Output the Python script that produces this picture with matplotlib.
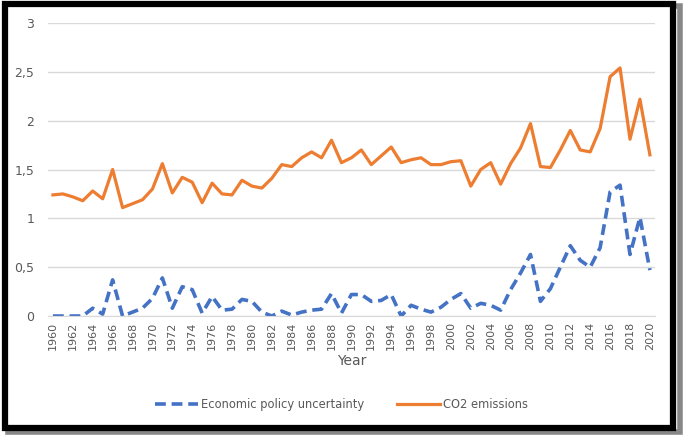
import matplotlib
matplotlib.use("Agg")
import matplotlib.pyplot as plt
from matplotlib.patches import Rectangle
from matplotlib.ticker import FuncFormatter

# data
years = list(range(1960, 2021))
epu = [0.0, 0.0, 0.0, 0.0, 0.08, 0.02, 0.37, 0.0, 0.04, 0.08,
       0.18, 0.39, 0.08, 0.30, 0.27, 0.03, 0.20, 0.06, 0.07, 0.17,
       0.15, 0.04, 0.0, 0.05, 0.01, 0.04, 0.06, 0.07, 0.23, 0.03,
       0.22, 0.22, 0.15, 0.16, 0.22, 0.0, 0.11, 0.07, 0.04, 0.09,
       0.17, 0.23, 0.08, 0.13, 0.11, 0.06, 0.27, 0.44, 0.63, 0.15,
       0.28, 0.50, 0.72, 0.57, 0.50, 0.70, 1.27, 1.34, 0.63, 1.01,
       0.47]
co2 = [1.24, 1.25, 1.22, 1.18, 1.28, 1.20, 1.50, 1.11, 1.15, 1.19,
       1.30, 1.56, 1.26, 1.42, 1.37, 1.16, 1.36, 1.25, 1.24, 1.39,
       1.33, 1.31, 1.41, 1.55, 1.53, 1.62, 1.68, 1.62, 1.80, 1.57,
       1.62, 1.70, 1.55, 1.64, 1.73, 1.57, 1.60, 1.62, 1.55, 1.55,
       1.58, 1.59, 1.33, 1.50, 1.57, 1.35, 1.56, 1.72, 1.97, 1.53,
       1.52, 1.70, 1.90, 1.70, 1.68, 1.92, 2.45, 2.54, 1.81, 2.22,
       1.65]
y_ticks = [0, 0.5, 1, 1.5, 2, 2.5, 3]

fig = plt.figure(figsize=(6.85, 4.38), dpi=100)

# black frame with a soft shadow around the whole chart
fig.patches.append(Rectangle((8 / 685, 6 / 438), 672 / 685, 426 / 438,
                             transform=fig.transFigure, facecolor="none",
                             edgecolor="#888888", linewidth=4, zorder=0))
fig.patches.append(Rectangle((5 / 685, 10 / 438), 668 / 685, 424 / 438,
                             transform=fig.transFigure, facecolor="white",
                             edgecolor="black", linewidth=4.5, zorder=1))

ax = fig.add_axes([0.070, 0.2785, 0.886, 0.669])
ax.set_zorder(2)
ax.patch.set_alpha(0)

ax.plot(years, epu, color="#4472C4", linewidth=2.6, linestyle=(0, (3, 1.6)),
        label="Economic policy uncertainty")
ax.plot(years, co2, color="#ED7D31", linewidth=2.3,
        label="CO2 emissions")

ax.set_xlim(1959.5, 2020.5)
ax.set_ylim(0, 3)
ax.set_yticks(y_ticks)
ax.yaxis.set_major_formatter(FuncFormatter(lambda v, p: f"{v:g}".replace(".", ",")))
ax.set_xticks(years[::2])
ax.tick_params(axis="x", labelrotation=90, labelsize=8, colors="#595959", length=0, pad=4)
ax.tick_params(axis="y", labelsize=9, colors="#595959", length=0, pad=10)
ax.grid(axis="y", color="#D9D9D9", linewidth=1)
ax.set_axisbelow(True)
for s in ["top", "right", "left"]:
    ax.spines[s].set_visible(False)
ax.spines["bottom"].set_color("#D9D9D9")

ax.set_xlabel("Year", fontsize=10, color="#595959", labelpad=3)

ax.legend(loc="upper center", bbox_to_anchor=(0.484, -0.245), ncol=2, frameon=False,
          fontsize=8.3, labelcolor="#595959", handlelength=3.7, handletextpad=0.3,
          columnspacing=2.8)

fig.savefig("out.png", dpi=100)
